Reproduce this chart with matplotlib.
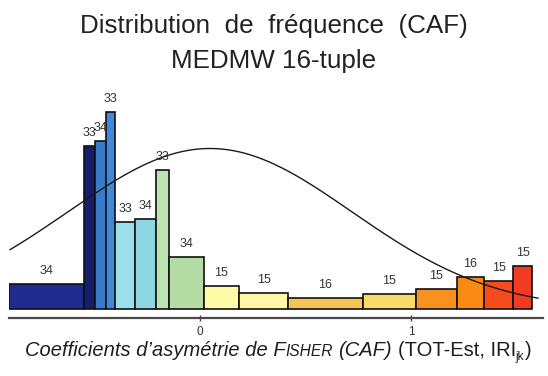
import numpy as np
import matplotlib
matplotlib.use("Agg")
import matplotlib.pyplot as plt

# Bin edges of the CAF histogram and the number of cases in each bin
bin_edges = [-0.901, -0.550, -0.498, -0.446, -0.403, -0.306, -0.209, -0.148,
             0.019, 0.184, 0.417, 0.769, 1.021, 1.215, 1.343, 1.482, 1.572]
bin_counts = [34, 33, 34, 33, 33, 34, 33, 34, 15, 15, 16, 15, 15, 16, 15, 15]
bin_colors = ["#1f2b8e", "#161d6a", "#3a7acb", "#4189d8", "#9adfe9", "#8fd6e5",
              "#bbe4b1", "#b6dca6", "#fffaa6", "#fff6a8", "#f4c458", "#fbd86a",
              "#f7921f", "#fa8a14", "#f44c1d", "#f13b22"]

# Normal curve overlaid on the histogram
curve_mean = 0.047
curve_sd = 0.671
curve_peak = 1.60
curve_range = (-0.898, 1.598)

tick_values = [0, 1]
tick_labels = ["0", "1"]

title_lines = ["Distribution  de  fréquence  (CAF)", "MEDMW 16-tuple"]

FONT = "Liberation Sans"
plt.rcParams["font.family"] = [FONT, "DejaVu Sans"]

W, H = 548, 376
fig = plt.figure(figsize=(W / 100, H / 100), dpi=100)
ax = fig.add_axes([9 / W, 58 / H, 534 / W, 228 / H])

edges = np.array(bin_edges)
counts = np.array(bin_counts, dtype=float)
widths = np.diff(edges)
density = counts / (counts.sum() * widths)

ax.bar(edges[:-1], density, width=widths, align="edge", color=bin_colors,
       edgecolor="#111111", linewidth=1.2, zorder=2)

for left, w, h, n in zip(edges[:-1], widths, density, bin_counts):
    ax.annotate(str(n), (left + w / 2, h), xytext=(0, 7.2),
                textcoords="offset points", ha="center", va="baseline",
                fontsize=9, color="#333333", zorder=4)

xc = np.linspace(curve_range[0], curve_range[1], 400)
yc = curve_peak * np.exp(-0.5 * ((xc - curve_mean) / curve_sd) ** 2)
ax.plot(xc, yc, color="#1a1a1a", lw=1.0, zorder=3)

ax.set_xlim(-0.903, 1.622)
ax.set_ylim(-0.0866, 2.182)
for s in ("left", "right", "top"):
    ax.spines[s].set_visible(False)
ax.spines["bottom"].set_color("#4a4a4a")
ax.spines["bottom"].set_linewidth(1.6)
ax.set_yticks([])
ax.set_xticks(tick_values)
ax.set_xticklabels(tick_labels)
ax.tick_params(axis="x", direction="inout", length=5, width=1.0,
               color="#444444", labelsize=8.5, labelcolor="#333333", pad=3)
ax.patch.set_alpha(0)

# Two-line title
fig.text(0.5, (H - 33) / H, title_lines[0], ha="center", va="baseline",
         fontsize=18.7, color="#222222")
fig.text(0.5, (H - 68) / H, title_lines[1], ha="center", va="baseline",
         fontsize=18.7, color="#222222")

# Axis caption assembled from pieces (italic, small caps, subscript)
renderer = fig.canvas.get_renderer()
base_size = 14.5
cap_size = 11.2
sub_size = 8.5


def text_width(s, **kw):
    t = fig.text(0, 0, s, **kw)
    w = t.get_window_extent(renderer).width
    t.remove()
    return w


def space_width(**kw):
    return text_width("x x", **kw) - text_width("xx", **kw)


ital = dict(fontsize=base_size, style="italic", color="#1e1e1e")
ital_caps = dict(fontsize=cap_size, style="italic", color="#1e1e1e")
norm = dict(fontsize=base_size, color="#1e1e1e")
sub = dict(fontsize=sub_size, color="#1e1e1e")

pieces = [
    ("Coefficients d\u2019asymétrie de F", ital, 0, 0),
    ("ISHER", ital_caps, 0, 0),
    ("(CAF)", ital, space_width(**ital), 0),
    ("(TOT-Est, IRI", norm, space_width(**norm), 0),
    ("jk", sub, 0, -4),
    (")", norm, 0.5, 0),
]

baseline_px = H - 356
x = 0.0
placed = []
for s, kw, gap, dy in pieces:
    x += gap
    t = fig.text(x / W, (baseline_px + dy) / H, s, ha="left", va="baseline", **kw)
    w = t.get_window_extent(renderer).width
    placed.append((t, x))
    x += w
total = x
start = (W - total) / 2 + 4
for t, px in placed:
    pos = t.get_position()
    t.set_position(((start + px) / W, pos[1]))

fig.savefig("out.png", dpi=100)
